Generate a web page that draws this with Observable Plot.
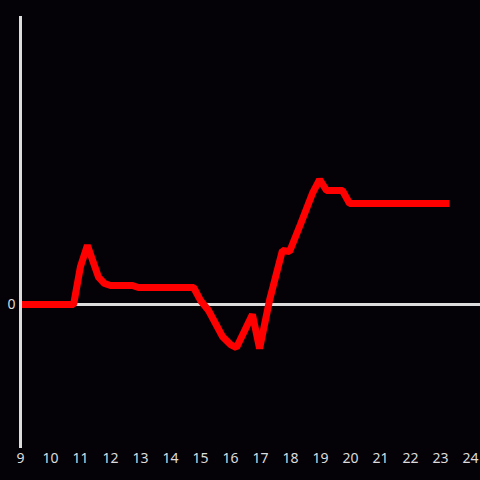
<!DOCTYPE html>
<html>
<head>
<meta charset="utf-8">
<script src="https://cdn.jsdelivr.net/npm/d3@7"></script>
<script src="https://cdn.jsdelivr.net/npm/@observablehq/plot@0.6"></script>
<style>
  html, body { margin: 0; padding: 0; background: #040206; }
  #chart { width: 480px; height: 480px; }
  #chart svg text { font-size: 14px !important; font-family: "Noto Sans", sans-serif; }
</style>
</head>
<body>
<div id="chart"></div>
<script>
const hours = [9.00, 10.77, 11.0, 11.23, 11.6, 11.8, 12.0, 12.73, 12.93, 14.77, 15.0, 15.27, 15.73, 16.0, 16.2, 16.73, 16.97, 17.3, 17.73, 17.97, 18.33, 18.73, 18.97, 19.2, 19.73, 19.97, 23.3];
const values = [0, 0, 0.264, 0.41, 0.19, 0.146, 0.132, 0.132, 0.118, 0.118, 0.028, -0.042, -0.222, -0.278, -0.299, -0.069, -0.306, 0.028, 0.375, 0.368, 0.556, 0.771, 0.868, 0.792, 0.792, 0.701, 0.701];
const xTicks = [9, 10, 11, 12, 13, 14, 15, 16, 17, 18, 19, 20, 21, 22, 23, 24];
const yTicks = [0];

const data = hours.map((h, i) => ({hour: h, value: values[i]}));

const chart = Plot.plot({
  width: 480,
  height: 480,
  marginLeft: 20,
  marginRight: 0,
  marginTop: 16,
  marginBottom: 32,
  style: {background: "#040206", color: "#dcdcdc", fontFamily: "Noto Sans, sans-serif"},
  x: {domain: [9, 24 + 1/3], label: null},
  y: {domain: [-1, 2], label: null},
  marks: [
    Plot.axisX(xTicks, {tickSize: 0, tickPadding: 5, label: null, tickFormat: d => String(d), fill: "#dcdcdc"}),
    Plot.axisY(yTicks, {tickSize: 0, tickPadding: 5, label: null, tickFormat: d => String(d), fill: "#dcdcdc"}),
    Plot.ruleY([0], {stroke: "#dcdcdc", strokeWidth: 3}),
    Plot.line(data, {x: "hour", y: "value", stroke: "#ff0000", strokeWidth: 7, strokeLinejoin: "miter", strokeLinecap: "butt"}),
    Plot.ruleX([9], {stroke: "#dcdcdc", strokeWidth: 3})
  ]
});
document.getElementById("chart").appendChild(chart);
</script>
</body>
</html>
